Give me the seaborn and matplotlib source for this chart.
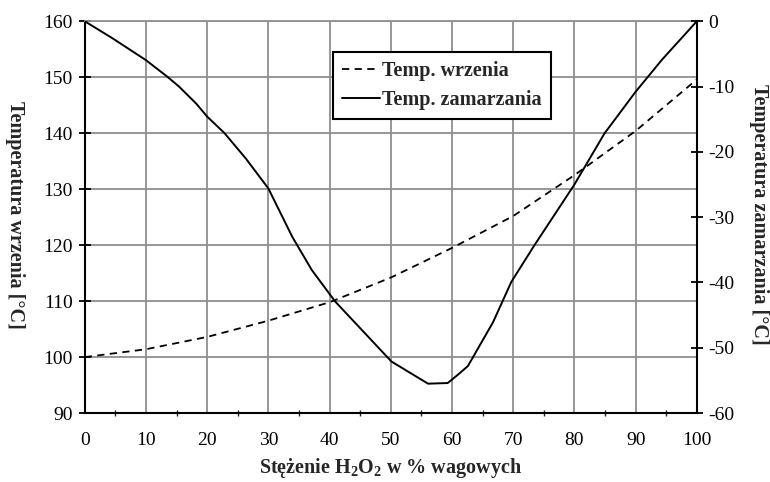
import matplotlib
matplotlib.use("Agg")
import matplotlib.pyplot as plt
import seaborn as sns
import pandas as pd
from matplotlib.ticker import MultipleLocator
from matplotlib.lines import Line2D

# Data
conc_boil = [0, 10, 20, 30, 40, 50, 60, 70, 80, 90, 100]
temp_boil = [100, 101.4, 103.6, 106.5, 109.8, 114.2, 119.5, 125.2, 132.5, 140.4, 149.6]

conc_freeze = [0, 4.6, 10, 13.5, 15.4, 18.2, 20, 22.8, 26.3, 30, 33.9, 37.1, 40.9, 44.7, 50.1,
               54.5, 56.1, 59.3, 61, 62.6, 63.7, 66.7, 69.7, 73.4, 80, 84.9, 90, 94.3, 100]
temp_freeze = [0, -2.65, -5.96, -8.5, -10.0, -12.6, -14.6, -17.1, -21.0, -25.6, -33.0, -38.1, -42.9,
               -46.7, -52.1, -54.6, -55.5, -55.4, -54.1, -52.8, -51.0, -46.1, -39.9, -34.4, -25.0,
               -17.2, -10.8, -5.9, 0]

x_ticks = [0, 10, 20, 30, 40, 50, 60, 70, 80, 90, 100]
left_ticks = [90, 100, 110, 120, 130, 140, 150, 160]
right_ticks = [-60, -50, -40, -30, -20, -10, 0]

label_boil = "Temp. wrzenia"
label_freeze = "Temp. zamarzania"
xlabel = r"Stężenie H$_2$O$_2$ w % wagowych"
ylabel_left = "Temperatura wrzenia [°C]"
ylabel_right = "Temperatura zamarzania [°C]"

sns.set_style("white")
plt.rcParams["font.family"] = ["Liberation Serif", "DejaVu Serif"]
plt.rcParams["axes.unicode_minus"] = False
plt.rcParams["mathtext.fontset"] = "custom"
plt.rcParams["mathtext.rm"] = "Liberation Serif:bold"
plt.rcParams["mathtext.it"] = "Liberation Serif:bold"
plt.rcParams["mathtext.bf"] = "Liberation Serif:bold"

df_boil = pd.DataFrame({"x": conc_boil, "y": temp_boil})
df_freeze = pd.DataFrame({"x": conc_freeze, "y": temp_freeze})

fig = plt.figure(figsize=(7.7, 4.82), dpi=100)
ax = fig.add_axes([0.110, 0.143, 0.795, 0.813])
ax2 = ax.twinx()

sns.lineplot(data=df_boil, x="x", y="y", ax=ax, color="black", lw=1.3,
             linestyle=(0, (4, 3)), legend=False)
sns.lineplot(data=df_freeze, x="x", y="y", ax=ax2, color="black", lw=1.4,
             legend=False)

ax.set_xlim(0, 100)
ax.set_ylim(90, 160)
ax2.set_ylim(-60, 0)
ax.set_xticks(x_ticks)
ax.set_yticks(left_ticks)
ax2.set_yticks(right_ticks)
ax.xaxis.set_minor_locator(MultipleLocator(5))

ax.grid(True, which="major", color="#8f8f8f", lw=1.3)
ax.set_axisbelow(True)

for a in (ax, ax2):
    for s in a.spines.values():
        s.set_visible(False)
ax.spines["left"].set_visible(True)
ax.spines["bottom"].set_visible(True)
ax2.spines["right"].set_visible(True)
ax.spines["top"].set_visible(True)
ax.spines["left"].set_color("black")
ax.spines["bottom"].set_color("black")
ax2.spines["right"].set_color("black")
ax.spines["top"].set_color("#8f8f8f")
for s in ("left", "bottom"):
    ax.spines[s].set_linewidth(1.5)
ax2.spines["right"].set_linewidth(1.5)
ax.spines["top"].set_linewidth(1.3)

ax.tick_params(axis="both", which="major", direction="inout", length=9, width=1.3,
               labelsize=14, colors="black", pad=4)
ax.tick_params(axis="x", which="minor", direction="inout", length=4, width=1.0, bottom=True)
ax.tick_params(axis="x", which="major", pad=9)
ax2.tick_params(axis="y", which="major", direction="inout", length=9, width=1.3,
                labelsize=14, colors="black", pad=4)

ax.set_xlabel(xlabel, fontsize=14.5, fontweight="bold", labelpad=5)
ax.set_ylabel("")
ax2.set_ylabel("")
fig.text(0.020, 0.555, ylabel_left, rotation=270, ha="center", va="center",
         fontsize=14.5, fontweight="bold")
fig.text(0.986, 0.555, ylabel_right, rotation=270, ha="center", va="center",
         fontsize=14.5, fontweight="bold")

handles = [Line2D([], [], color="black", lw=1.3, linestyle=(0, (4, 3))),
           Line2D([], [], color="black", lw=1.4)]
leg = ax2.legend(handles, [label_boil, label_freeze], loc="upper left",
                 bbox_to_anchor=(0.432, 0.892), bbox_transform=fig.transFigure,
                 prop={"family": "Liberation Serif", "weight": "bold", "size": 14.5},
                 frameon=True, fancybox=False, framealpha=1, edgecolor="black",
                 handlelength=1.9, handletextpad=0.1, borderpad=0.45, labelspacing=0.45,
                 borderaxespad=0)
leg.get_frame().set_linewidth(1.5)

fig.savefig("out.png", dpi=100, facecolor="white")
